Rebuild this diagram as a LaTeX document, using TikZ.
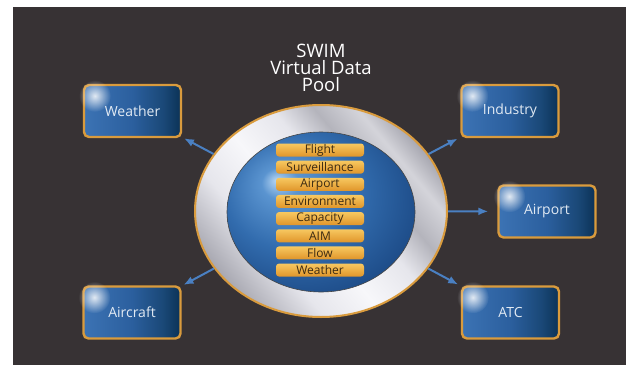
\documentclass[tikz,border=0pt]{standalone}
\usepackage{fontspec}
\setmainfont{Open Sans}
\usetikzlibrary{shapes.geometric,arrows.meta,fadings}
\definecolor{bg}{HTML}{373234}
\definecolor{gold}{HTML}{D99B3D}
\definecolor{arrowc}{HTML}{4A80C2}
\definecolor{boxtext}{HTML}{E2EAF3}
\definecolor{bartext}{HTML}{3D2B12}
\definecolor{bar1}{HTML}{F7C860}
\definecolor{bar2}{HTML}{E0952A}
\definecolor{bxa}{HTML}{3C73B4}
\definecolor{bxb}{HTML}{2B5F9E}
\definecolor{bxc}{HTML}{1A4877}
\definecolor{bxd}{HTML}{0B3256}
\definecolor{spa}{HTML}{B4D4F2}
\definecolor{spb}{HTML}{5A94D0}
\definecolor{spc}{HTML}{326CAE}
\definecolor{spd}{HTML}{1C4A86}
\definecolor{m1}{HTML}{A9A9B2}
\definecolor{m2}{HTML}{E6E6EC}
\definecolor{m3}{HTML}{F7F7FA}
\definecolor{m4}{HTML}{B4B4BC}
\definecolor{m5}{HTML}{D4D4DA}
\pgfdeclarehorizontalshading{boxsh}{100bp}{color(0bp)=(bxa); color(25bp)=(bxa); color(50bp)=(bxb); color(66bp)=(bxc); color(75bp)=(bxd); color(100bp)=(bxd)}
\pgfdeclareradialshading{sphsh}{\pgfpoint{-12bp}{10bp}}{color(0bp)=(spa); color(5bp)=(spb); color(18bp)=(spc); color(32bp)=(spd); color(50bp)=(spd)}
\pgfdeclarehorizontalshading{metal}{100bp}{color(0bp)=(m1); color(25bp)=(m1); color(36bp)=(m2); color(46bp)=(m3); color(56bp)=(m2); color(63bp)=(m4); color(70bp)=(m5); color(75bp)=(m1); color(100bp)=(m1)}
\tikzfading[name=glowfade, inner color=transparent!0, outer color=transparent!100]
\begin{document}
\begin{tikzpicture}[x=1pt,y=-1pt,
  box/.style={rounded corners=5pt, draw=gold, line width=2.4pt, shade, shading=boxsh,
    minimum width=97pt, minimum height=52pt, inner sep=0pt, text=boxtext,
    font=\fontsize{14}{16}\selectfont},
  bar/.style={rounded corners=3pt, top color=bar1, bottom color=bar2,
    minimum width=88pt, minimum height=13pt, inner sep=0pt, text=bartext,
    font=\fontsize{12}{12}\selectfont},
  conn/.style={-{Latex[length=10pt,width=8pt]}, line width=2pt, draw=arrowc},
  glow/.style={white, opacity=0.85, path fading=glowfade}]
\useasboundingbox (0,0) rectangle (626,364);
\fill[bg] (13,7) rectangle (628,366);
% title
\node[text=white, align=center, font=\fontsize{18.5}{17}\selectfont] (title) at (321,68) {SWIM\\Virtual Data\\Pool};
% pool
\node[ellipse, shade, shading=metal, shading angle=40, draw=gold, line width=2pt,
  minimum width=252pt, minimum height=212pt, inner sep=0pt] (pool) at (321,211) {};
\node[ellipse, shade, shading=sphsh, draw=gray!55!black, line width=0.6pt,
  minimum width=188pt, minimum height=160pt, inner sep=0pt] (core) at (321,212) {};
% bars
\foreach \t [count=\i from 0] in {Flight,Surveillance,Airport,Environment,Capacity,AIM,Flow,Weather}
  \node[bar] (bar\i) at (320,{150+17.15*\i}) {\t};
% boxes
\node[box] (weather) at (132.5,111) {Weather};
\node[box] (industry) at (510,111) {Industry};
\node[box] (airport) at (547,211.5) {Airport};
\node[box] (aircraft) at (132,312.5) {Aircraft};
\node[box] (atc) at (510.5,312.5) {ATC};
\foreach \n in {weather,industry,airport,aircraft,atc}
  \fill[glow] ([xshift=12pt,yshift=-12pt]\n.north west) circle (16pt);
% connectors
\draw[conn, shorten >=2pt] (pool) -- (weather);
\draw[conn, shorten >=3pt] (pool) -- (industry);
\draw[conn, shorten >=9pt] (pool) -- (airport);
\draw[conn, shorten >=2pt] (pool) -- (aircraft);
\draw[conn, shorten >=3pt] (pool) -- (atc);
\end{tikzpicture}
\end{document}
